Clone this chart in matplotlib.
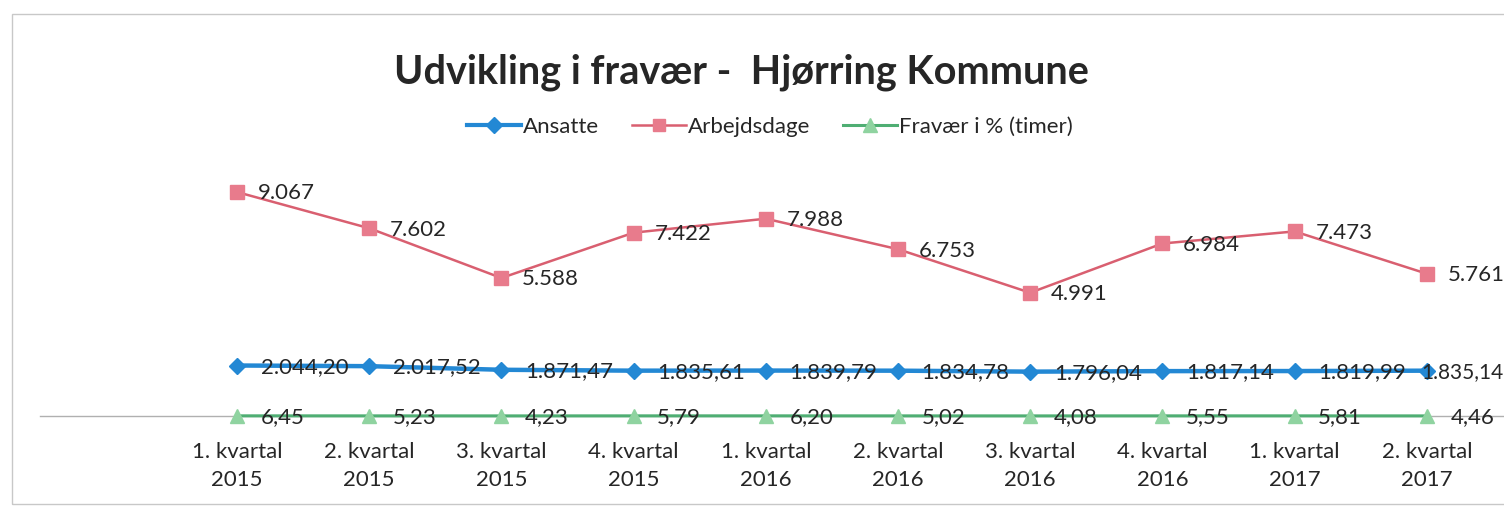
import matplotlib
matplotlib.use("Agg")
import matplotlib.pyplot as plt
from matplotlib.lines import Line2D
from matplotlib.patches import Rectangle

quarters = ["1. kvartal", "2. kvartal", "3. kvartal", "4. kvartal",
            "1. kvartal", "2. kvartal", "3. kvartal", "4. kvartal",
            "1. kvartal", "2. kvartal"]
years = ["2015", "2015", "2015", "2015", "2016", "2016", "2016", "2016", "2017", "2017"]

ansatte = [2044.20, 2017.52, 1871.47, 1835.61, 1839.79, 1834.78, 1796.04, 1817.14, 1819.99, 1835.14]
arbejdsdage = [9067, 7602, 5588, 7422, 7988, 6753, 4991, 6984, 7473, 5761]
fravaer = [6.45, 5.23, 4.23, 5.79, 6.20, 5.02, 4.08, 5.55, 5.81, 4.46]

BLUE = "#2388d4"
RED_LINE = "#d95f70"
RED_MARK = "#e87b8c"
GREEN_LINE = "#4fae73"
GREEN_MARK = "#8fd3a0"
TXT = "#262626"

plt.rcParams["font.family"] = ["Lato", "DejaVu Sans"]

W, H = 1504, 509
fig = plt.figure(figsize=(W / 100, H / 100), dpi=100)

# chart frame (right edge cut off in the scan)
fig.patches.append(Rectangle((12 / W, 1 - 504 / H), 1.2, (504 - 14) / H,
                             transform=fig.transFigure, fill=False,
                             edgecolor="#c8c8c8", linewidth=1.0))

axis_px = 416          # pixel row of y=0
px_per_unit = 0.0247   # vertical pixels per unit
x0_px, step_px = 237, 132.2

ax = fig.add_axes([0, (H - axis_px) / H, 1, axis_px / H])
ax.set_xlim(-x0_px / step_px, (W - x0_px) / step_px)
ax.set_ylim(0, axis_px / px_per_unit)
ax.patch.set_alpha(0)

for s in ("top", "left", "right"):
    ax.spines[s].set_visible(False)
ax.spines["bottom"].set_color("#b0b0b0")
ax.spines["bottom"].set_linewidth(1.0)
ax.spines["bottom"].set_bounds((40 - x0_px) / step_px, (W - x0_px) / step_px)
ax.set_yticks([])

xs = list(range(len(quarters)))
ax.set_xticks(xs)
ax.set_xticklabels([f"{q}\n{y}" for q, y in zip(quarters, years)],
                   fontsize=16, color=TXT, linespacing=1.5)
ax.tick_params(axis="x", length=0, pad=19)

ax.plot(xs, arbejdsdage, color=RED_LINE, linewidth=1.8, marker="s", markersize=10,
        markerfacecolor=RED_MARK, markeredgecolor=RED_MARK, clip_on=False, zorder=3)
ax.plot(xs, ansatte, color=BLUE, linewidth=3.2, marker="D", markersize=8.5,
        markerfacecolor=BLUE, markeredgecolor=BLUE, clip_on=False, zorder=3)
ax.plot(xs, fravaer, color=GREEN_LINE, linewidth=2.2, marker="^", markersize=10.5,
        markerfacecolor=GREEN_MARK, markeredgecolor=GREEN_MARK, clip_on=False, zorder=3)


def fmt_int(v):
    return f"{v:,.0f}".replace(",", ".")


def fmt_dec(v):
    return f"{v:,.2f}".replace(",", "X").replace(".", ",").replace("X", ".")


for x, v in zip(xs, arbejdsdage):
    ax.annotate(fmt_int(v), (x, v), xytext=(15, -1), textcoords="offset points",
                ha="left", va="center", fontsize=16, color=TXT, zorder=4)
for i, (x, v) in enumerate(zip(xs, ansatte)):
    last = i == len(xs) - 1
    ax.annotate(fmt_dec(v), (x, v), xytext=(-4 if last else 17, -1),
                textcoords="offset points", ha="left", va="center",
                fontsize=15 if last else 16, color=TXT, zorder=4)
for x, v in zip(xs, fravaer):
    ax.annotate(fmt_dec(v), (x, v), xytext=(17, -1), textcoords="offset points",
                ha="left", va="center", fontsize=16, color=TXT, zorder=4)

fig.text(741 / W, 1 - 72 / H, "Udvikling i fravær -  Hjørring Kommune",
         ha="center", va="center", fontsize=28.5, fontweight="bold", color=TXT)

handles = [
    Line2D([], [], color=BLUE, linewidth=3.0, marker="D", markersize=8,
           markerfacecolor=BLUE, markeredgecolor=BLUE),
    Line2D([], [], color=RED_LINE, linewidth=1.8, marker="s", markersize=9,
           markerfacecolor=RED_MARK, markeredgecolor=RED_MARK),
    Line2D([], [], color=GREEN_LINE, linewidth=2.2, marker="^", markersize=10,
           markerfacecolor=GREEN_MARK, markeredgecolor=GREEN_MARK),
]
fig.legend(handles, ["Ansatte", "Arbejdsdage", "Fravær i % (timer)"],
           loc="center", bbox_to_anchor=(770 / W, 1 - 127 / H), ncol=3,
           frameon=False, fontsize=16, handlelength=2.4, handletextpad=0.1,
           columnspacing=1.5, labelcolor=TXT)

fig.savefig("out.png", dpi=100)
